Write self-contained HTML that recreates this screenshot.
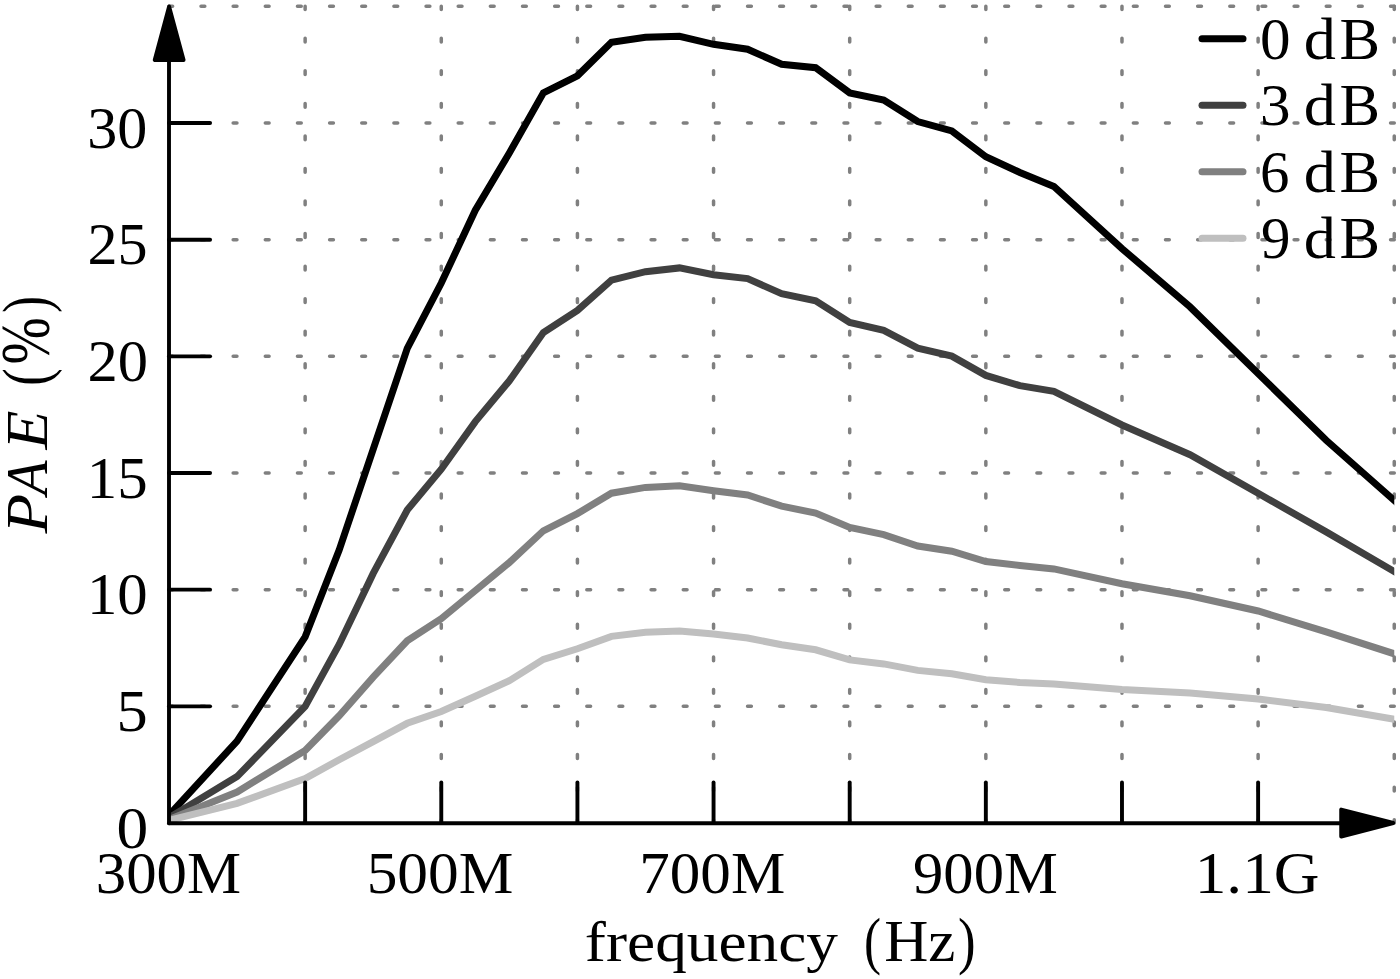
<!DOCTYPE html>
<html><head><meta charset="utf-8"><style>
html,body{margin:0;padding:0;background:#fff;}
body{width:1400px;height:979px;overflow:hidden;}
svg{display:block;}
text{font-family:"Liberation Serif",serif;fill:#000;}
</style></head><body>
<svg width="1400" height="979" viewBox="0 0 1400 979">
<rect x="0" y="0" width="1400" height="979" fill="#fff"/>
<g stroke="#808080" stroke-width="3.5" stroke-linecap="round" fill="none">
<line x1="169.0" y1="706.34" x2="1394.26" y2="706.34" stroke-dasharray="3.8 28.35" stroke-dashoffset="0.15"/>
<line x1="169.0" y1="589.67" x2="1394.26" y2="589.67" stroke-dasharray="3.8 28.35" stroke-dashoffset="0.15"/>
<line x1="169.0" y1="473.00" x2="1394.26" y2="473.00" stroke-dasharray="3.8 28.35" stroke-dashoffset="0.15"/>
<line x1="169.0" y1="356.34" x2="1394.26" y2="356.34" stroke-dasharray="3.8 28.35" stroke-dashoffset="0.15"/>
<line x1="169.0" y1="239.68" x2="1394.26" y2="239.68" stroke-dasharray="3.8 28.35" stroke-dashoffset="0.15"/>
<line x1="169.0" y1="123.01" x2="1394.26" y2="123.01" stroke-dasharray="3.8 28.35" stroke-dashoffset="0.15"/>
<line x1="169.0" y1="6.35" x2="1394.26" y2="6.35" stroke-dasharray="3.8 28.35" stroke-dashoffset="0.15"/>
<line x1="305.14" y1="823.0" x2="305.14" y2="6.35" stroke-dasharray="3.8 28.76" stroke-dashoffset="0.5"/>
<line x1="441.28" y1="823.0" x2="441.28" y2="6.35" stroke-dasharray="3.8 28.76" stroke-dashoffset="0.5"/>
<line x1="577.42" y1="823.0" x2="577.42" y2="6.35" stroke-dasharray="3.8 28.76" stroke-dashoffset="0.5"/>
<line x1="713.56" y1="823.0" x2="713.56" y2="6.35" stroke-dasharray="3.8 28.76" stroke-dashoffset="0.5"/>
<line x1="849.70" y1="823.0" x2="849.70" y2="6.35" stroke-dasharray="3.8 28.76" stroke-dashoffset="0.5"/>
<line x1="985.84" y1="823.0" x2="985.84" y2="6.35" stroke-dasharray="3.8 28.76" stroke-dashoffset="0.5"/>
<line x1="1121.98" y1="823.0" x2="1121.98" y2="6.35" stroke-dasharray="3.8 28.76" stroke-dashoffset="0.5"/>
<line x1="1258.12" y1="823.0" x2="1258.12" y2="6.35" stroke-dasharray="3.8 28.76" stroke-dashoffset="0.5"/>
<line x1="1394.26" y1="823.0" x2="1394.26" y2="6.35" stroke-dasharray="3.8 28.76" stroke-dashoffset="0.5"/>
</g>
<defs><clipPath id="pc"><rect x="169.0" y="6.35" width="1225.26" height="816.65"/></clipPath></defs>
<g clip-path="url(#pc)">
<polyline points="169.00,815.20 237.07,741.10 305.14,636.90 339.17,550.00 407.25,348.50 441.28,283.00 475.31,210.20 509.35,153.00 543.38,92.90 577.42,75.80 611.45,42.30 645.49,37.20 679.52,36.30 713.56,44.30 747.59,49.20 781.63,64.30 815.66,67.70 849.70,92.90 883.73,100.00 917.77,121.50 951.80,130.90 985.84,156.70 1019.87,172.50 1053.91,186.40 1121.98,248.60 1190.05,306.90 1326.19,440.30 1394.26,500.40 1428.29,530.45" fill="none" stroke="#000000" stroke-width="7" stroke-linejoin="miter" stroke-miterlimit="10"/>
<polyline points="169.00,817.80 237.07,776.60 305.14,706.50 339.17,644.50 373.21,573.40 407.25,510.00 441.28,469.20 475.31,421.60 509.35,380.80 543.38,332.60 577.42,310.40 611.45,280.10 645.49,271.70 679.52,267.90 713.56,274.70 747.59,278.60 781.63,293.60 815.66,300.70 849.70,322.50 883.73,330.40 917.77,348.20 951.80,356.10 985.84,375.40 1019.87,385.70 1053.91,391.30 1121.98,425.00 1190.05,454.70 1258.12,493.30 1326.19,531.90 1394.26,571.60 1428.29,591.45" fill="none" stroke="#404040" stroke-width="7" stroke-linejoin="miter" stroke-miterlimit="10"/>
<polyline points="169.00,819.40 237.07,792.00 305.14,750.50 339.17,715.80 373.21,677.20 407.25,640.80 441.28,618.60 475.31,590.60 509.35,562.50 543.38,530.80 577.42,513.60 611.45,493.20 645.49,487.40 679.52,485.70 713.56,490.70 747.59,495.00 781.63,506.10 815.66,513.00 849.70,527.50 883.73,534.60 917.77,546.00 951.80,551.20 985.84,561.50 1019.87,565.50 1053.91,568.90 1121.98,583.70 1190.05,595.80 1258.12,611.00 1326.19,631.80 1394.26,653.80 1428.29,664.80" fill="none" stroke="#808080" stroke-width="7" stroke-linejoin="miter" stroke-miterlimit="10"/>
<polyline points="169.00,820.30 237.07,803.40 305.14,778.50 339.17,759.80 373.21,741.60 407.25,723.30 441.28,711.50 475.31,696.30 509.35,680.70 543.38,659.40 577.42,648.80 611.45,636.40 645.49,632.20 679.52,631.10 713.56,634.10 747.59,638.00 781.63,644.80 815.66,649.80 849.70,659.90 883.73,663.90 917.77,670.40 951.80,673.80 985.84,679.80 1019.87,682.50 1053.91,684.00 1121.98,689.50 1190.05,693.00 1258.12,699.00 1326.19,707.50 1394.26,719.20 1428.29,725.05" fill="none" stroke="#bfbfbf" stroke-width="7" stroke-linejoin="miter" stroke-miterlimit="10"/>
</g>
<g stroke="#000" stroke-width="3.9" stroke-linecap="round">
<line x1="305.14" y1="823.0" x2="305.14" y2="782.40"/>
<line x1="441.28" y1="823.0" x2="441.28" y2="782.40"/>
<line x1="577.42" y1="823.0" x2="577.42" y2="782.40"/>
<line x1="713.56" y1="823.0" x2="713.56" y2="782.40"/>
<line x1="849.70" y1="823.0" x2="849.70" y2="782.40"/>
<line x1="985.84" y1="823.0" x2="985.84" y2="782.40"/>
<line x1="1121.98" y1="823.0" x2="1121.98" y2="782.40"/>
<line x1="1258.12" y1="823.0" x2="1258.12" y2="782.40"/>
<line x1="169.0" y1="706.34" x2="210.10" y2="706.34"/>
<line x1="169.0" y1="589.67" x2="210.10" y2="589.67"/>
<line x1="169.0" y1="473.00" x2="210.10" y2="473.00"/>
<line x1="169.0" y1="356.34" x2="210.10" y2="356.34"/>
<line x1="169.0" y1="239.68" x2="210.10" y2="239.68"/>
<line x1="169.0" y1="123.01" x2="210.10" y2="123.01"/>
</g>
<line x1="169.0" y1="823.2" x2="169.0" y2="30" stroke="#000" stroke-width="3.9" stroke-linecap="round"/>
<line x1="169.0" y1="823.2" x2="1370" y2="823.2" stroke="#000" stroke-width="3.9" stroke-linecap="round"/>
<polygon points="169.1,6.5 154.7,60.1 183.6,60.1" fill="#000" stroke="#000" stroke-width="3.9" stroke-linejoin="round"/>
<polygon points="1393.3,823 1341.2,809.6 1341.2,836.6" fill="#000" stroke="#000" stroke-width="3.9" stroke-linejoin="round"/>
<line x1="1202" y1="38.85" x2="1243" y2="38.85" stroke="#000000" stroke-width="7" stroke-linecap="round"/>
<line x1="1202" y1="105.35" x2="1243" y2="105.35" stroke="#404040" stroke-width="7" stroke-linecap="round"/>
<line x1="1202" y1="171.85" x2="1243" y2="171.85" stroke="#808080" stroke-width="7" stroke-linecap="round"/>
<line x1="1202" y1="238.35" x2="1243" y2="238.35" stroke="#bfbfbf" stroke-width="7" stroke-linecap="round"/>
<text transform="translate(116.38,847.70) scale(1.0577,1.0000)" font-size="60.0">0</text>
<text transform="translate(116.48,731.04) scale(1.0400,1.0000)" font-size="60.0">5</text>
<text transform="translate(86.93,614.37) scale(1.0132,1.0000)" font-size="60.0">10</text>
<text transform="translate(86.72,497.70) scale(1.0151,1.0000)" font-size="60.0">15</text>
<text transform="translate(87.48,381.04) scale(1.0089,1.0000)" font-size="60.0">20</text>
<text transform="translate(87.50,264.38) scale(1.0018,1.0000)" font-size="60.0">25</text>
<text transform="translate(87.30,147.71) scale(1.0018,1.0000)" font-size="60.0">30</text>
<text transform="translate(95.77,893.20) scale(1.0136,1.0000)" font-size="60.0">300M</text>
<text transform="translate(366.63,893.20) scale(1.0237,1.0000)" font-size="60.0">500M</text>
<text transform="translate(639.24,893.20) scale(1.0187,1.0000)" font-size="60.0">700M</text>
<text transform="translate(913.09,893.20) scale(1.0092,1.0000)" font-size="60.0">900M</text>
<text transform="translate(1194.73,893.20) scale(1.0545,1.0000)" font-size="60.0">1.1G</text>
<text transform="translate(584.84,961.00) scale(1.0559,0.9650)" font-size="60.0">frequency</text>
<text transform="translate(863.89,961.50) scale(0.8529,1.0650)" font-size="60.0">(</text>
<text transform="translate(884.28,961.00) scale(1.0174,1.0000)" font-size="60.0">Hz</text>
<text transform="translate(958.12,961.50) scale(0.8824,1.0650)" font-size="60.0">)</text>
<text transform="translate(46.90,533.62) rotate(-90) scale(1.0811,1.0000)" font-size="60.0" font-style="italic">P</text>
<text transform="translate(46.90,495.03) rotate(-90) scale(0.9415,1.0000)" font-size="60.0" font-style="italic">A</text>
<text transform="translate(46.90,449.44) rotate(-90) scale(1.0622,1.0000)" font-size="60.0" font-style="italic">E</text>
<text transform="translate(48.40,385.74) rotate(-90) scale(0.8706,1.0850)" font-size="60.0">(</text>
<text transform="translate(49.40,364.49) rotate(-90) scale(0.9457,1.1700)" font-size="60.0">%</text>
<text transform="translate(48.40,312.84) rotate(-90) scale(0.8412,1.0850)" font-size="60.0">)</text>
<text transform="translate(1259.96,58.80) scale(1.0192,1.0000)" font-size="60.0">0</text>
<text transform="translate(1303.86,58.80) scale(1.0714,1.0000)" font-size="60.0">d</text>
<text transform="translate(1339.49,58.80) scale(1.0135,1.0000)" font-size="60.0">B</text>
<text transform="translate(1259.96,125.30) scale(1.0192,1.0000)" font-size="60.0">3</text>
<text transform="translate(1303.86,125.30) scale(1.0714,1.0000)" font-size="60.0">d</text>
<text transform="translate(1339.49,125.30) scale(1.0135,1.0000)" font-size="60.0">B</text>
<text transform="translate(1260.04,191.80) scale(0.9815,1.0000)" font-size="60.0">6</text>
<text transform="translate(1303.86,191.80) scale(1.0714,1.0000)" font-size="60.0">d</text>
<text transform="translate(1339.49,191.80) scale(1.0135,1.0000)" font-size="60.0">B</text>
<text transform="translate(1261.02,258.30) scale(0.9815,1.0000)" font-size="60.0">9</text>
<text transform="translate(1303.86,258.30) scale(1.0714,1.0000)" font-size="60.0">d</text>
<text transform="translate(1339.49,258.30) scale(1.0135,1.0000)" font-size="60.0">B</text>
</svg>
</body></html>
